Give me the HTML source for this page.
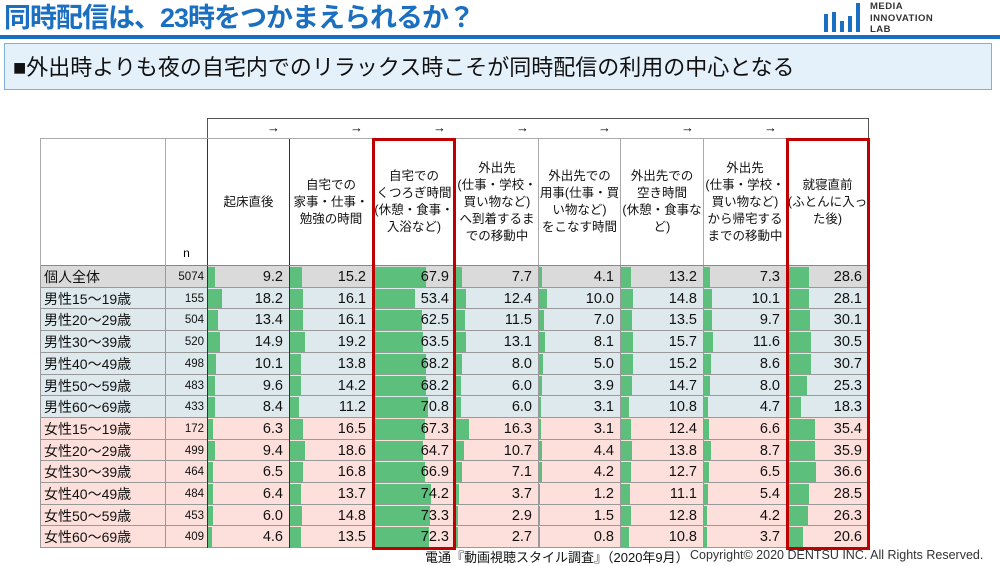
<!DOCTYPE html>
<html><head><meta charset="utf-8"><style>
body{margin:0;width:1000px;height:564px;overflow:hidden;background:#fff;font-family:"Liberation Sans","Noto Sans CJK JP",sans-serif;position:relative}
.a{position:absolute}
.title{left:4px;top:3px;font-size:27px;line-height:30px;font-weight:bold;color:#1a6fc0;letter-spacing:-1px}
.hl{left:0;top:35px;width:1000px;height:4px;background:#1a6fc0}
.sub{left:4px;top:43px;width:988px;height:47px;background:#e4f0fa;border:1px solid #7fb0dc;font-size:22px;line-height:47px;color:#111;padding-left:8px;box-sizing:border-box}
.cell{position:absolute;box-sizing:border-box;overflow:hidden}
.hd{font-size:12.5px;line-height:17px;text-align:center;display:flex;align-items:center;justify-content:center;color:#111}
.num{font-size:14.5px;text-align:right;padding-right:6px;line-height:22px;color:#111}
.bar{position:absolute;left:0;top:1px;bottom:1px;background:#5cbf7c}
.lab{font-size:14px;line-height:22px;padding-left:3px;color:#111}
.n{font-size:11.5px;line-height:22px;text-align:right;padding-right:3px;color:#111}
.red{position:absolute;border:3px solid #c00000;box-sizing:border-box}
</style></head><body>
<div class="a title">同時配信は、23時をつかまえられるか？</div>
<div class="a" style="left:824px;top:8px;width:40px;height:24px">
<div class="a" style="left:0;top:6px;width:4px;height:18px;background:#1a6fc0"></div>
<div class="a" style="left:8px;top:4px;width:4px;height:20px;background:#1a6fc0"></div>
<div class="a" style="left:16px;top:13px;width:4px;height:11px;background:#1a6fc0"></div>
<div class="a" style="left:24px;top:8px;width:4px;height:16px;background:#1a6fc0"></div>
<div class="a" style="left:32px;top:-5px;width:4px;height:29px;background:#1a6fc0"></div>
</div>
<div class="a" style="left:870px;top:1px;font-size:9.5px;line-height:11.5px;font-weight:bold;color:#333;letter-spacing:0.5px">MEDIA<br>INNOVATION<br>LAB</div>
<div class="a hl"></div>
<div class="a sub">■外出時よりも夜の自宅内でのリラックス時こそが同時配信の利用の中心となる</div>
<div id="t"></div>
<div class="a" style="left:425px;top:547px;font-size:13px;color:#111">電通『動画視聴スタイル調査』（2020年9月）</div>
<div class="a" style="left:690px;top:548px;font-size:12.5px;color:#333">Copyright© 2020 DENTSU INC. All Rights Reserved.</div>
<script>
var X=[207,289,372,455,538,620,703,786,868];
var H=["起床直後","自宅での<br>家事・仕事・<br>勉強の時間","自宅での<br>くつろぎ時間<br>(休憩・食事・<br>入浴など)","外出先<br>(仕事・学校・<br>買い物など)<br>へ到着するま<br>での移動中","外出先での<br>用事(仕事・買<br>い物など)<br>をこなす時間","外出先での<br>空き時間<br>(休憩・食事な<br>ど)","外出先<br>(仕事・学校・<br>買い物など)<br>から帰宅する<br>までの移動中","就寝直前<br>(ふとんに入っ<br>た後)"];
var R=[["個人全体",5074,[9.2,15.2,67.9,7.7,4.1,13.2,7.3,28.6]],
["男性15～19歳",155,[18.2,16.1,53.4,12.4,10.0,14.8,10.1,28.1]],
["男性20～29歳",504,[13.4,16.1,62.5,11.5,7.0,13.5,9.7,30.1]],
["男性30～39歳",520,[14.9,19.2,63.5,13.1,8.1,15.7,11.6,30.5]],
["男性40～49歳",498,[10.1,13.8,68.2,8.0,5.0,15.2,8.6,30.7]],
["男性50～59歳",483,[9.6,14.2,68.2,6.0,3.9,14.7,8.0,25.3]],
["男性60～69歳",433,[8.4,11.2,70.8,6.0,3.1,10.8,4.7,18.3]],
["女性15～19歳",172,[6.3,16.5,67.3,16.3,3.1,12.4,6.6,35.4]],
["女性20～29歳",499,[9.4,18.6,64.7,10.7,4.4,13.8,8.7,35.9]],
["女性30～39歳",464,[6.5,16.8,66.9,7.1,4.2,12.7,6.5,36.6]],
["女性40～49歳",484,[6.4,13.7,74.2,3.7,1.2,11.1,5.4,28.5]],
["女性50～59歳",453,[6.0,14.8,73.3,2.9,1.5,12.8,4.2,26.3]],
["女性60～69歳",409,[4.6,13.5,72.3,2.7,0.8,10.8,3.7,20.6]]];
var s='';
s+='<div class="cell" style="left:207px;top:118px;width:662px;height:21px;border:1px solid #555;border-bottom:1px solid #aaa"></div>';
for(var i=0;i<7;i++)s+='<div class="cell" style="left:'+(X[i+1]-22)+'px;top:118px;width:22px;font-size:13px;font-weight:bold;line-height:20px">→</div>';
s+='<div class="cell" style="left:40px;top:138px;width:829px;height:128px;border-top:1px solid #aaa;border-bottom:1px solid #888"></div>';
s+='<div class="cell" style="left:40px;top:138px;width:126px;height:128px;border-left:1px solid #aaa;border-right:1px solid #aaa"></div>';
s+='<div class="cell" style="left:166px;top:246px;width:41px;font-size:12px;text-align:center">n</div>';
for(var i=0;i<8;i++){s+='<div class="cell hd" style="left:'+X[i]+'px;top:139px;width:'+(X[i+1]-X[i])+'px;height:126px;border-left:1px solid '+(i<2?'#333':'#aaa')+'">'+H[i]+'</div>';}
var y0=266,rh=21.7;
R.forEach(function(r,j){var y=Math.round(y0+j*rh),h=Math.round(y0+(j+1)*rh)-y;
var bg=j==0?'#dadada':(j<7?'#dde9ec':'#fde0db');
s+='<div class="cell" style="left:40px;top:'+y+'px;width:829px;height:'+h+'px;background:'+bg+';border-bottom:1px solid #999"></div>';
s+='<div class="cell lab" style="left:40px;top:'+y+'px;width:126px;height:'+h+'px;border-left:1px solid #999;border-right:1px solid #999">'+r[0]+'</div>';
s+='<div class="cell n" style="left:166px;top:'+y+'px;width:41px;height:'+h+'px">'+r[1]+'</div>';
for(var i=0;i<8;i++){var w=X[i+1]-X[i];
s+='<div class="cell num" style="left:'+X[i]+'px;top:'+y+'px;width:'+w+'px;height:'+h+'px;border-left:1px solid '+(i<2?'#333':'#999')+'"><div class="bar" style="width:'+(r[2][i]*0.78)+'px"></div><span style="position:relative">'+r[2][i].toFixed(1)+'</span></div>';}
});
s+='<div class="cell" style="left:868px;top:266px;width:1px;height:283px;background:#999"></div>';
s+='<div class="red" style="left:372px;top:138px;width:84px;height:412px"></div>';
s+='<div class="red" style="left:786px;top:138px;width:84px;height:412px"></div>';
document.getElementById('t').innerHTML=s;
</script>
</body></html>
